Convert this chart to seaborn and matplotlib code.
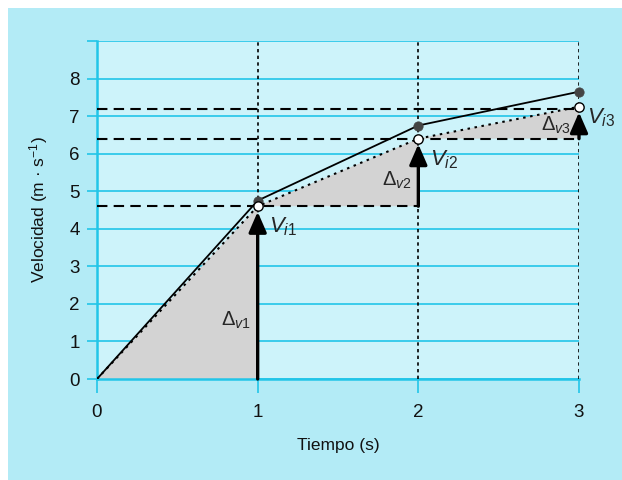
import matplotlib
matplotlib.use("Agg")
import matplotlib.pyplot as plt
import seaborn as sns
import pandas as pd
from matplotlib.patches import Rectangle, Polygon

# Data
t = [0, 1, 2, 3]
v_real = [0, 4.75, 6.75, 7.65]      # solid line (filled dots)
v_inst = [0, 4.6, 6.4, 7.25]        # dotted line (open dots)
dashed_levels = [4.6, 6.4, 7.2]
dashed_ends = [2, 3, 3]
y_ticks = [0, 1, 2, 3, 4, 5, 6, 7, 8, 9]
y_ticklabels = ["0", "1", "2", "3", "4", "5", "6", "7", "8", ""]
x_ticks = [0, 1, 2, 3]
v_labels = ["$V_{i1}$", "$V_{i2}$", "$V_{i3}$"]
d_labels = [r"$\Delta_{v1}$", r"$\Delta_{v2}$", r"$\Delta_{v3}$"]

sns.set_theme(style="white")
plt.rcParams['font.family'] = ['Liberation Sans', 'DejaVu Sans']
plt.rcParams['mathtext.fontset'] = 'custom'
plt.rcParams['mathtext.rm'] = 'Liberation Sans'
plt.rcParams['mathtext.it'] = 'Liberation Sans:italic'

OUTER = '#b3ebf6'
INNER = '#cdf3fa'
GRID = '#22c5e8'

fig = plt.figure(figsize=(6.22, 4.80), dpi=100)
fig.patch.set_facecolor('white')
fig.patches.append(Rectangle((8/622, 0), 1 - 8/622, 1 - 8/480, transform=fig.transFigure,
                             facecolor=OUTER, edgecolor='none', zorder=-10))
ax = fig.add_axes([97/622, 1 - 379/480, (579 - 97)/622, (379 - 41)/480])
ax.set_facecolor(INNER)
ax.set_xlim(0, 3)
ax.set_ylim(0, 9)

# grid
for y in y_ticks:
    ax.axhline(y, color=GRID, lw=1.2, zorder=1)

# shaded triangles
for i in range(3):
    poly = Polygon([(t[i], v_inst[i]), (t[i+1], v_inst[i+1]), (t[i+1], v_inst[i])],
                   closed=True, facecolor='#d3d3d3', edgecolor='none', zorder=2)
    ax.add_patch(poly)

# vertical dotted lines
for x in t[1:]:
    ax.axvline(x, color='black', lw=1.2, ls=(0, (2, 2)), zorder=3)

# dashed horizontal lines
for lvl, xe in zip(dashed_levels, dashed_ends):
    ax.plot([0, xe], [lvl, lvl], color='black', lw=1.5, ls=(0, (5, 3)), zorder=3)

df = pd.DataFrame({'t': t, 'real': v_real, 'inst': v_inst})
sns.lineplot(data=df, x='t', y='real', ax=ax, color='black', lw=1.3, zorder=4)
sns.lineplot(data=df, x='t', y='inst', ax=ax, color='black', lw=1.5,
             linestyle=(0, (1.2, 2.2)), zorder=4)

# arrows
starts = [0, v_inst[1], v_inst[2]]
for i in range(3):
    ax.annotate('', xy=(t[i+1], v_inst[i+1]), xytext=(t[i+1], starts[i]),
                arrowprops=dict(arrowstyle='-|>,head_length=0.62,head_width=0.27',
                                color='black', lw=2.4, shrinkA=0, shrinkB=4,
                                mutation_scale=20),
                zorder=5, annotation_clip=False)

sns.scatterplot(data=df.iloc[1:], x='t', y='real', ax=ax, s=45, color='#444444',
                edgecolor='#444444', zorder=6, clip_on=False)
sns.scatterplot(data=df.iloc[1:], x='t', y='inst', ax=ax, s=45, color='white',
                edgecolor='black', linewidth=1, zorder=7, clip_on=False)

# labels
v_pos = [(1.07, 4.05), (2.07, 5.85), (3.05, 6.95)]
for (x, y), lab in zip(v_pos, v_labels):
    ax.text(x, y, lab, fontsize=16, ha='left', va='center', zorder=8)
d_pos = [(0.96, 1.55), (1.96, 5.3), (2.95, 6.75)]
for (x, y), lab in zip(d_pos, d_labels):
    ax.text(x, y, lab, fontsize=14.5, ha='right', va='center', zorder=8)

ax.set_xticks(x_ticks)
ax.set_xticklabels([str(x) for x in x_ticks])
ax.set_yticks(y_ticks)
ax.set_yticklabels(y_ticklabels)
ax.tick_params(axis='x', length=10, width=1.2, color=GRID, pad=8, labelsize=13.5,
               bottom=True, labelcolor='#111111')
ax.tick_params(axis='y', length=7.5, width=1.2, color=GRID, pad=5, labelsize=13.5,
               left=True, labelcolor='#111111')
for s in ['top', 'right']:
    ax.spines[s].set_visible(False)
for s in ['left', 'bottom']:
    ax.spines[s].set_color(GRID)
    ax.spines[s].set_linewidth(1.8)

ax.set_xlabel('Tiempo (s)', fontsize=12.5, labelpad=12, color='#111111')
ax.set_ylabel('Velocidad (m · s$^{-1}$)', fontsize=12.5, labelpad=14, color='#111111')

fig.savefig('out.png', dpi=100)
